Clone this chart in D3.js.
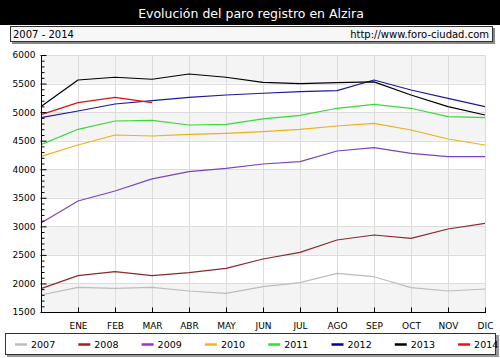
<!DOCTYPE html>
<html>
<head>
<meta charset="utf-8">
<script src="https://cdn.jsdelivr.net/npm/d3@7"></script>
<style>
  html, body { margin: 0; padding: 0; background: #fff; }
  svg { display: block; }
  text { font-family: "DejaVu Sans", Verdana, sans-serif; }
</style>
</head>
<body>
<svg id="chart" width="500" height="358"></svg>
<script>
// ---- data ----
const categories = ["", "ENE", "FEB", "MAR", "ABR", "MAY", "JUN", "JUL", "AGO", "SEP", "OCT", "NOV", "DIC"];
const years = ["2007", "2008", "2009", "2010", "2011", "2012", "2013", "2014"];
const s2007 = [1798, 1932, 1915, 1932, 1868, 1827, 1943, 2013, 2177, 2118, 1926, 1868, 1903];
const s2008 = [1910, 2136, 2206, 2136, 2188, 2265, 2428, 2545, 2761, 2848, 2790, 2953, 3053];
const s2009 = [3060, 3444, 3619, 3830, 3957, 4016, 4091, 4132, 4319, 4377, 4279, 4220, 4220];
const s2010 = [4225, 4424, 4599, 4582, 4611, 4629, 4657, 4699, 4757, 4804, 4687, 4529, 4424];
const s2011 = [4430, 4699, 4844, 4856, 4774, 4786, 4880, 4944, 5067, 5137, 5067, 4920, 4902];
const s2012 = [4905, 5020, 5142, 5200, 5259, 5300, 5330, 5357, 5375, 5562, 5387, 5242, 5095];
const s2013 = [5100, 5562, 5610, 5575, 5667, 5610, 5522, 5500, 5515, 5530, 5300, 5095, 4950];
const s2014 = [4955, 5165, 5259, 5165];
const yTicks = [1500, 2000, 2500, 3000, 3500, 4000, 4500, 5000, 5500, 6000];
const title = "Evolución del paro registro en Alzira";
const subtitleLeft = "2007 - 2014";
const subtitleRight = "http://www.foro-ciudad.com";

const seriesValues = [s2007, s2008, s2009, s2010, s2011, s2012, s2013, s2014];
const lineColors = ["#bcbcbc", "#8a2a2a", "#7a44c0", "#f0ae1a", "#3ad83a", "#1a1a99", "#000000", "#e01010"];
const legendColors = ["#bcbcbc", "#a02020", "#9933cc", "#ffaa22", "#33dd33", "#000099", "#000000", "#ee1111"];

// ---- layout ----
const svg = d3.select("#chart");
const W = 500, H = 358;
const plot = { left: 41, right: 485, top: 55, bottom: 312 };

const x = d3.scalePoint().domain(d3.range(categories.length)).range([plot.left, plot.right]);
const y = d3.scaleLinear().domain([1500, 6000]).range([plot.bottom, plot.top]);

// title bar
svg.append("rect").attr("x", 0).attr("y", 0).attr("width", W).attr("height", 25).attr("fill", "#000");
svg.append("text").attr("x", 251).attr("y", 18).attr("text-anchor", "middle")
  .attr("fill", "#fff").attr("font-size", 12.5).text(title);

// subtitle box
svg.append("rect").attr("x", 12).attr("y", 28).attr("width", 483).attr("height", 16).attr("fill", "#888");
svg.append("rect").attr("x", 10.5).attr("y", 26.5).attr("width", 482).attr("height", 15)
  .attr("fill", "#f7f7f7").attr("stroke", "#333").attr("stroke-width", 1);
svg.append("text").attr("x", 13).attr("y", 38).attr("font-size", 10).attr("fill", "#000").text(subtitleLeft);
svg.append("text").attr("x", 489).attr("y", 38).attr("text-anchor", "end").attr("font-size", 10).attr("fill", "#000").text(subtitleRight);

// bands
const bandG = svg.append("g");
for (let i = 0; i < yTicks.length - 1; i++) {
  const hi = yTicks[yTicks.length - 1 - i], lo = yTicks[yTicks.length - 2 - i];
  bandG.append("rect")
    .attr("x", plot.left).attr("width", plot.right - plot.left)
    .attr("y", y(hi)).attr("height", y(lo) - y(hi))
    .attr("fill", i % 2 === 0 ? "#f4f4f4" : "#ffffff");
}

// grid
const gridG = svg.append("g").attr("stroke", "#dcdcdc").attr("stroke-width", 1);
yTicks.forEach(t => {
  gridG.append("line").attr("x1", plot.left).attr("x2", plot.right)
    .attr("y1", Math.round(y(t)) + 0.5).attr("y2", Math.round(y(t)) + 0.5);
});
categories.forEach((c, i) => {
  if (i === 0) return;
  gridG.append("line").attr("x1", Math.round(x(i)) + 0.5).attr("x2", Math.round(x(i)) + 0.5)
    .attr("y1", plot.top).attr("y2", plot.bottom);
});

// lines
const line = d3.line().x((d, i) => x(i)).y(d => y(d));
seriesValues.forEach((vals, k) => {
  svg.append("path").attr("d", line(vals)).attr("fill", "none")
    .attr("stroke", lineColors[k]).attr("stroke-width", 1.2).attr("stroke-linejoin", "round");
});

// y axis
const yAxis = d3.axisLeft(y).tickValues(d3.range(1500, 6001, 100))
  .tickSize(-3).tickFormat(d => yTicks.includes(d) ? d : "");
const yg = svg.append("g").attr("transform", `translate(${plot.left + 0.5},0)`).call(yAxis);
yg.select(".domain").attr("stroke", "#000");
yg.selectAll(".tick line").attr("stroke", "#000")
  .attr("x2", d => yTicks.includes(d) ? 5 : 3).attr("x1", d => yTicks.includes(d) ? -1 : 0);
yg.selectAll(".tick text").attr("x", -6).attr("font-size", 9).attr("fill", "#000")
  .attr("font-family", "DejaVu Sans, sans-serif");
yg.select(".domain").attr("d", `M0,${plot.top}V${plot.bottom}`);

// x axis
const xAxis = d3.axisBottom(x).tickSize(-5).tickFormat(i => categories[i]);
const xg = svg.append("g").attr("transform", `translate(0,${plot.bottom + 0.5})`).call(xAxis);
xg.select(".domain").attr("stroke", "#000").attr("d", `M${plot.left},0H${plot.right + 1}`);
xg.selectAll(".tick").filter(i => i === 0).remove();
xg.selectAll(".tick line").attr("stroke", "#000");
xg.selectAll(".tick text").attr("y", 10).attr("font-size", 9).attr("fill", "#000")
  .attr("font-family", "DejaVu Sans, sans-serif");

// legend
svg.append("rect").attr("x", 7).attr("y", 335).attr("width", 492).attr("height", 22).attr("fill", "#999");
svg.append("rect").attr("x", 5.5).attr("y", 333.5).attr("width", 490).attr("height", 21)
  .attr("fill", "#fff").attr("stroke", "#333");
const lg = svg.append("g");
years.forEach((yr, k) => {
  const lx = 15 + k * 63.3;
  lg.append("line").attr("x1", lx).attr("x2", lx + 12).attr("y1", 344.5).attr("y2", 344.5)
    .attr("stroke", legendColors[k]).attr("stroke-width", 2.5);
  lg.append("text").attr("x", lx + 16).attr("y", 348).attr("font-size", 9.5).attr("fill", "#000").text(yr);
});
</script>
</body>
</html>
